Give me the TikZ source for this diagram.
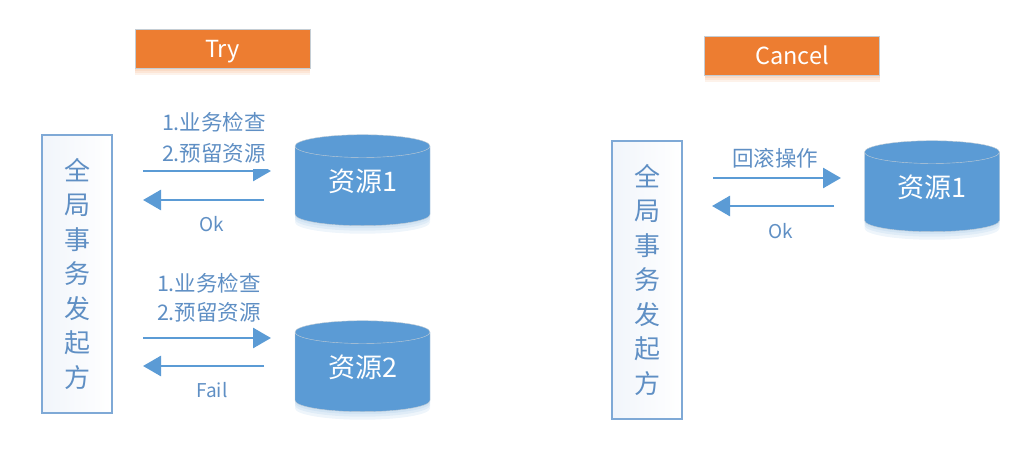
\documentclass[tikz,border=0pt]{standalone}
\usepackage{xcolor}
\usepackage{fontspec}
\setmainfont{Noto Sans CJK SC}
\usepackage{tikz}
\usetikzlibrary{positioning, shapes.geometric, shadows, arrows.meta}

\definecolor{barorange}{HTML}{ED7D31}
\definecolor{resblue}{HTML}{5B9BD5}
\definecolor{labelblue}{HTML}{5F8FC4}
\definecolor{rimgray}{HTML}{C4CDD4}
\definecolor{pagebox}{HTML}{F1F5FB}
\definecolor{startline}{HTML}{7FA9D6}

\newcommand{\reslabel}[1]{\raisebox{-5.5pt}[0pt][0pt]{#1}}

\tikzset{
	softshade/.style 2 args={drop shadow={shadow xshift=0pt, shadow yshift=-#1, fill=#2, opacity=0.1}},
	phasebox/.style={draw=rimgray, fill=barorange, text=white, minimum width=175pt, minimum height=39pt, inner sep=0pt, font=\fontsize{23.5}{23.5}\selectfont,
		softshade={7pt}{barorange}, softshade={5pt}{barorange}, softshade={3pt}{barorange}},
	startbox/.style={draw=startline, line width=1.6pt, left color=pagebox, right color=white, text=labelblue, minimum width=70pt, minimum height=278pt, inner sep=0pt, align=center, font=\fontsize{26}{34.5}\selectfont},
	resdb/.style={cylinder, shape border rotate=90, aspect=0.33, draw=rimgray, fill=resblue, text=white, minimum width=135pt, minimum height=91pt, inner sep=0pt, font=\fontsize{27}{27}\selectfont,
		softshade={8pt}{resblue}, softshade={5pt}{resblue}, softshade={2.5pt}{resblue}},
	flow/.style={draw=resblue, line width=2.8pt, -{Triangle[length=18pt, width=20pt]}},
	steptext/.style={text=labelblue, font=\fontsize{21.5}{21.5}\selectfont, inner sep=0pt},
	answertext/.style={text=labelblue, font=\fontsize{19}{19}\selectfont, inner sep=0pt}
}

\begin{document}
\begin{tikzpicture}[x=1pt, y=-1pt]
	\useasboundingbox (0,0) rectangle (1026,457);
	
	%//Try side
	\node [phasebox] (try) at (222.5,48.5) {\raisebox{-9.5pt}[0pt][0pt]{Try}};
	\node [startbox] (startl) at (77,274) {全\\局\\事\\务\\发\\起\\方};
	\node [resdb] (resa) at (362.5,186) {\reslabel{资源1}};
	\node [resdb] (resb) at (362.5,372) {\reslabel{资源2}};
	
	\coordinate (aout) at (143,171);
	\coordinate (ain) at (271,171);
	\coordinate (aback) at (264,200);
	\coordinate (aend) at (143,200);
	\coordinate (bout) at (143,338);
	\coordinate (bin) at (271,338);
	\coordinate (bback) at (264,366);
	\coordinate (bend) at (143,366);
	
	\draw [flow] (aout) -- (ain);
	\draw [flow] (aback) -- (aend);
	\draw [flow] (bout) -- (bin);
	\draw [flow] (bback) -- (bend);
	
	%//this label sits over the top of the first arrow head
	\node [steptext, fill=white, inner xsep=6pt, minimum height=33pt] (akeep) at (214,153) {2.预留资源};
	\node [steptext] (acheck) at (214,122) {1.业务检查};
	\node [answertext] (aok) at (212,224) {Ok};
	\node [steptext] (bcheck) at (209,283) {1.业务检查};
	\node [steptext] (bkeep) at (209,312) {2.预留资源};
	\node [answertext] (bfail) at (212,390) {Fail};
	
	%//Cancel side
	\node [phasebox] (cancel) at (792,55.5) {Cancel};
	\node [startbox] (startr) at (647,280) {全\\局\\事\\务\\发\\起\\方};
	\node [resdb] (resc) at (932,192) {\reslabel{资源1}};
	
	\coordinate (cout) at (713,178);
	\coordinate (cin) at (841,178);
	\coordinate (cback) at (834,206);
	\coordinate (cend) at (712,206);
	
	\draw [flow] (cout) -- (cin);
	\draw [flow] (cback) -- (cend);
	
	\node [steptext] (crollback) at (775,158) {回滚操作};
	\node [answertext] (cok) at (781,231) {Ok};
\end{tikzpicture}
\end{document}
